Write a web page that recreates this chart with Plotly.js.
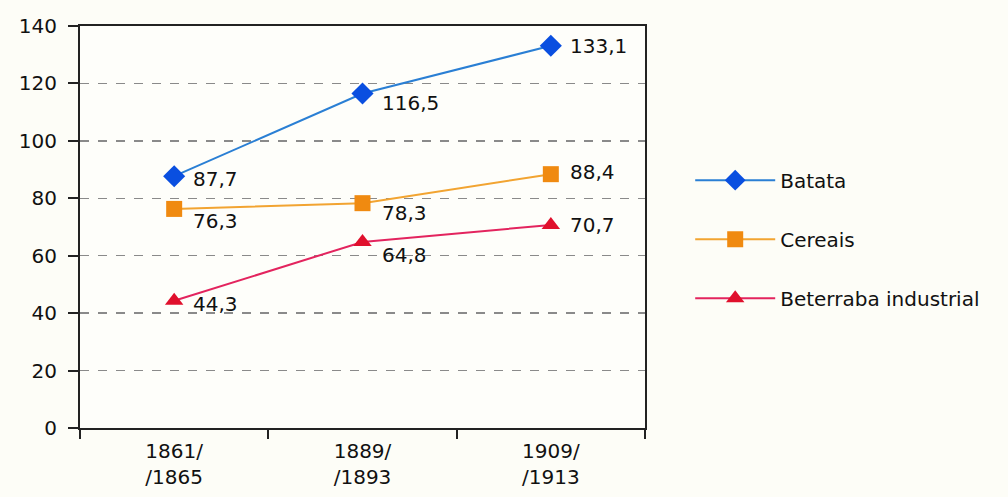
<!DOCTYPE html>
<html>
<head>
<meta charset="utf-8">
<script src="https://cdn.plot.ly/plotly-3.0.1.min.js"></script>
<style>html,body{margin:0;padding:0;background:#fdfdf7;}#chart{width:1008px;height:497px;}</style>
</head>
<body>
<div id="chart"></div>
<script>
const periods = ["1861/<br>/1865", "1889/<br>/1893", "1909/<br>/1913"];
const batata = [87.7, 116.5, 133.1];
const cereais = [76.3, 78.3, 88.4];
const beterraba = [44.3, 64.8, 70.7];
const batataLabels = ["87,7", "116,5", "133,1"];
const cereaisLabels = ["76,3", "78,3", "88,4"];
const beterrabaLabels = ["44,3", "64,8", "70,7"];
const yTicks = [0, 20, 40, 60, 80, 100, 120, 140];

// label pixel offsets (style only)
const labelShiftY = {
  batata: [-3, -10, 0],
  cereais: [-12, -10, 2],
  beterraba: [-3, -13, 0]
};

const FONT = "DejaVu Sans, Liberation Sans, Arial, sans-serif";
const TXT = "#111111";

const traces = [
  {
    name: "Batata", x: periods, y: batata,
    mode: "lines+markers", legendgroup: "a",
    line: {color: "#2a7fd4", width: 2},
    marker: {symbol: "diamond", size: 17, color: "#0a4fe0"}
  },
  {
    name: "Cereais", x: periods, y: cereais,
    mode: "lines+markers", legendgroup: "b",
    line: {color: "#f2a431", width: 2},
    marker: {symbol: "square", size: 16, color: "#f08a10"}
  },
  {
    name: "Beterraba industrial", x: periods, y: beterraba,
    mode: "lines+markers", legendgroup: "c",
    line: {color: "#e3245e", width: 2},
    marker: {symbol: "triangle-up", size: 16, color: "#e0102c"}
  }
];

const annotations = [];
function addLabels(vals, labels, shifts) {
  vals.forEach((v, i) => {
    annotations.push({
      x: periods[i], y: v, xref: "x", yref: "y",
      text: labels[i], showarrow: false,
      xanchor: "left", yanchor: "middle",
      xshift: 17, yshift: shifts[i],
      font: {family: FONT, size: 20, color: TXT}
    });
  });
}
addLabels(batata, batataLabels, labelShiftY.batata);
addLabels(cereais, cereaisLabels, labelShiftY.cereais);
addLabels(beterraba, beterrabaLabels, labelShiftY.beterraba);

const layout = {
  width: 1008, height: 497,
  margin: {l: 80, r: 363, t: 26, b: 69},
  paper_bgcolor: "#fdfdf7",
  plot_bgcolor: "#fefefa",
  font: {family: FONT, size: 20, color: TXT},
  showlegend: true,
  legend: {
    x: 1.08, xanchor: "left", y: 0.665, yanchor: "top",
    tracegroupgap: 30, itemwidth: 80,
    font: {family: FONT, size: 20, color: TXT},
    bgcolor: "rgba(0,0,0,0)"
  },
  annotations: annotations,
  xaxis: {
    type: "category",
    tickson: "boundaries",
    ticks: "outside", ticklen: 9, tickcolor: "#222", tickwidth: 2,
    ticklabelstandoff: 4,
    showline: true, linecolor: "#222", linewidth: 2, mirror: true,
    showgrid: false, zeroline: false,
    tickfont: {family: FONT, size: 20, color: TXT},
    range: [-0.5, 2.5]
  },
  yaxis: {
    range: [0, 140],
    tickvals: yTicks, ticktext: yTicks.map(String),
    ticks: "outside", ticklen: 10, tickcolor: "#222", tickwidth: 2,
    ticklabelstandoff: 7,
    showline: true, linecolor: "#222", linewidth: 2, mirror: true,
    showgrid: true, gridcolor: "#8a8a8a", griddash: "dash", gridwidth: 1.5,
    zeroline: false,
    tickfont: {family: FONT, size: 20, color: TXT}
  }
};

Plotly.newPlot("chart", traces, layout, {displayModeBar: false, staticPlot: true});
</script>
</body>
</html>
